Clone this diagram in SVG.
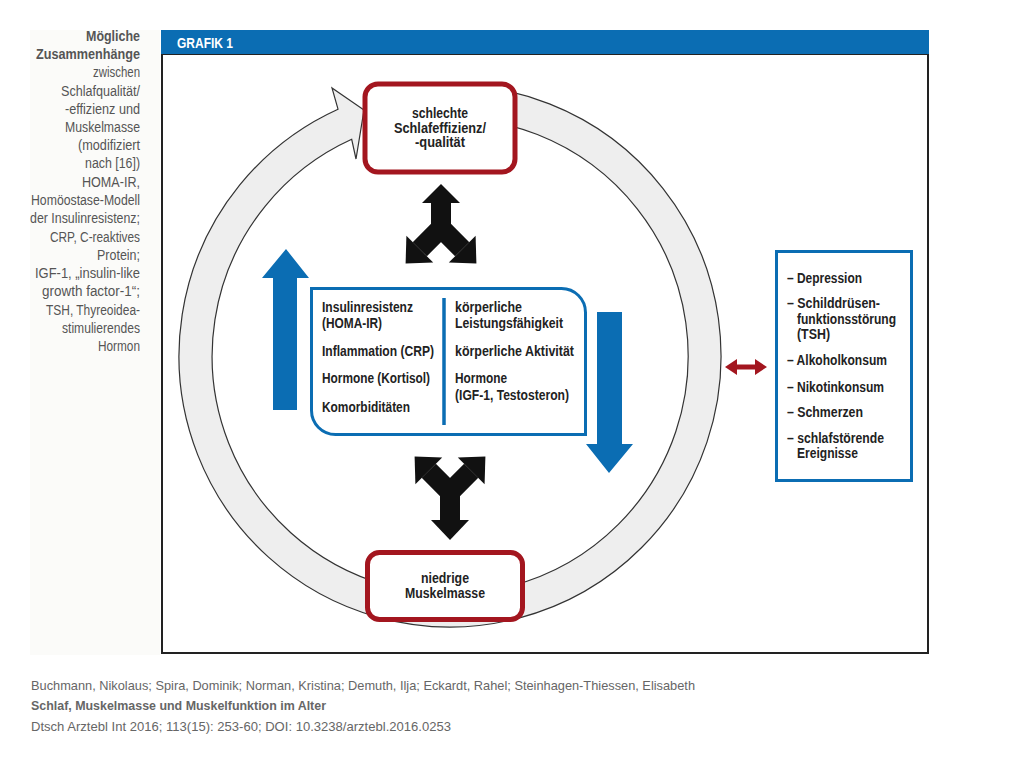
<svg xmlns="http://www.w3.org/2000/svg" width="1024" height="768" viewBox="0 0 1024 768">
<style>
.t{font-family:"Liberation Sans",Arial,sans-serif;font-weight:bold;fill:#222;font-size:14px}
.side{font-family:"Liberation Sans",Arial,sans-serif;fill:#555;font-size:14px;text-anchor:end}
.foot{font-family:"Liberation Sans",Arial,sans-serif;fill:#666;font-size:13px}
.redbox{fill:#fff;stroke:#a3161f;stroke-width:5}
.blue{fill:#0b6db3}
.bk{fill:#111}
</style>
<rect x="30" y="30" width="130" height="625" fill="#fbfbf9"/>
<g id="sidebar">
<text class="side" x="140" y="41" font-weight="bold" textLength="54" lengthAdjust="spacingAndGlyphs">Mögliche</text>
<text class="side" x="140" y="59" font-weight="bold" textLength="104" lengthAdjust="spacingAndGlyphs">Zusammenhänge</text>
<text class="side" x="140" y="77" textLength="47" lengthAdjust="spacingAndGlyphs">zwischen</text>
<text class="side" x="140" y="96" textLength="79" lengthAdjust="spacingAndGlyphs">Schlafqualität/</text>
<text class="side" x="140" y="114" textLength="75" lengthAdjust="spacingAndGlyphs">-effizienz und</text>
<text class="side" x="140" y="132" textLength="75" lengthAdjust="spacingAndGlyphs">Muskelmasse</text>
<text class="side" x="140" y="150" textLength="62" lengthAdjust="spacingAndGlyphs">(modifiziert</text>
<text class="side" x="140" y="168" textLength="55" lengthAdjust="spacingAndGlyphs">nach [16])</text>
<text class="side" x="140" y="187" textLength="58" lengthAdjust="spacingAndGlyphs">HOMA-IR,</text>
<text class="side" x="140" y="205" textLength="109" lengthAdjust="spacingAndGlyphs">Homöostase-Modell</text>
<text class="side" x="140" y="223" textLength="110" lengthAdjust="spacingAndGlyphs">der Insulinresistenz;</text>
<text class="side" x="140" y="242" textLength="90" lengthAdjust="spacingAndGlyphs">CRP, C-reaktives</text>
<text class="side" x="140" y="260" textLength="43" lengthAdjust="spacingAndGlyphs">Protein;</text>
<text class="side" x="140" y="278" textLength="105" lengthAdjust="spacingAndGlyphs">IGF-1, „insulin-like</text>
<text class="side" x="140" y="296" textLength="98" lengthAdjust="spacingAndGlyphs">growth factor-1“;</text>
<text class="side" x="140" y="315" textLength="94" lengthAdjust="spacingAndGlyphs">TSH, Thyreoidea-</text>
<text class="side" x="140" y="333" textLength="78" lengthAdjust="spacingAndGlyphs">stimulierendes</text>
<text class="side" x="140" y="351" textLength="42" lengthAdjust="spacingAndGlyphs">Hormon</text>
</g>
<g id="frame">
<rect x="162" y="54" width="766" height="599" fill="#fff" stroke="#222" stroke-width="2"/>
<rect x="161" y="30" width="768" height="24" class="blue"/>
<text x="177" y="48" font-family="Liberation Sans, Arial, sans-serif" font-weight="bold" font-size="14" fill="#fff" textLength="56" lengthAdjust="spacingAndGlyphs">GRAFIK 1</text>
</g>
<g id="connectors">
<path d="M338.0 109.2 A271 271 0 1 0 426.4 86.0 L429.3 118.9 A238 238 0 1 1 351.7 139.3 L356 159 L364 110 L332 88 Z" fill="#eeeeee" stroke="#333" stroke-width="1.2" stroke-linejoin="miter"/>
<polygon class="blue" points="273,410 273,278 262,278 286,249 309,278 297,278 297,410"/>
<polygon class="blue" points="597,312 622,312 622,444 633,444 609,473 586,444 597,444"/>
<g id="tri-top">
<path d="M419.8 249.2 L441 228 L462.2 249.2 M441 228 L441 202" fill="none" stroke="#111" stroke-width="20" stroke-linejoin="miter"/>
<polygon class="bk" points="422,203 441,184 460,203"/>
<polygon class="bk" points="405.6,263.4 433.2,262.6 406.4,235.8"/>
<polygon class="bk" points="476.4,263.4 448.8,262.6 475.6,235.8"/>
</g>
<g id="tri-bottom">
<path d="M428.8 470.8 L450 492 L471.2 470.8 M450 492 L450 521" fill="none" stroke="#111" stroke-width="20" stroke-linejoin="miter"/>
<polygon class="bk" points="431,520 450,540 469,520"/>
<polygon class="bk" points="414.6,456.6 442.2,457.4 415.4,484.2"/>
<polygon class="bk" points="485.4,456.6 457.8,457.4 484.6,484.2"/>
</g>
<polygon fill="#a3161f" points="725,367 737,359 737,364.5 755,364.5 755,359 767,367 755,375 755,369.5 737,369.5 737,375"/>
</g>
<g id="node-top">
<rect class="redbox" x="365" y="84" width="150" height="88" rx="13"/>
<text class="t" x="440" y="118" text-anchor="middle" textLength="56" lengthAdjust="spacingAndGlyphs">schlechte</text>
<text class="t" x="440" y="132.5" text-anchor="middle" textLength="92" lengthAdjust="spacingAndGlyphs">Schlafeffizienz/</text>
<text class="t" x="440" y="147" text-anchor="middle" textLength="50" lengthAdjust="spacingAndGlyphs">-qualität</text>
</g>
<g id="node-bottom">
<rect class="redbox" x="367.5" y="552.5" width="155" height="67" rx="12"/>
<text class="t" x="445" y="583" text-anchor="middle" textLength="48" lengthAdjust="spacingAndGlyphs">niedrige</text>
<text class="t" x="445" y="598" text-anchor="middle" textLength="80" lengthAdjust="spacingAndGlyphs">Muskelmasse</text>
</g>
<g id="node-center">
<path d="M311.5 288.5 H561.5 A24 24 0 0 1 585.5 312.5 V434.5 H335.5 A24 24 0 0 1 311.5 410.5 Z" fill="#fff" stroke="#0b6db3" stroke-width="3"/>
<line x1="444" y1="298" x2="444" y2="425" stroke="#0b6db3" stroke-width="3.5"/>
<text class="t" x="322" y="312" textLength="91" lengthAdjust="spacingAndGlyphs">Insulinresistenz</text>
<text class="t" x="322" y="328" textLength="60" lengthAdjust="spacingAndGlyphs">(HOMA-IR)</text>
<text class="t" x="322" y="356" textLength="112" lengthAdjust="spacingAndGlyphs">Inflammation (CRP)</text>
<text class="t" x="322" y="383" textLength="108" lengthAdjust="spacingAndGlyphs">Hormone (Kortisol)</text>
<text class="t" x="322" y="412" textLength="88" lengthAdjust="spacingAndGlyphs">Komorbiditäten</text>
<text class="t" x="455" y="312" textLength="67" lengthAdjust="spacingAndGlyphs">körperliche</text>
<text class="t" x="455" y="328" textLength="108" lengthAdjust="spacingAndGlyphs">Leistungsfähigkeit</text>
<text class="t" x="455" y="356" textLength="119" lengthAdjust="spacingAndGlyphs">körperliche Aktivität</text>
<text class="t" x="455" y="383" textLength="52" lengthAdjust="spacingAndGlyphs">Hormone</text>
<text class="t" x="455" y="400" textLength="114" lengthAdjust="spacingAndGlyphs">(IGF-1, Testosteron)</text>
</g>
<g id="node-right">
<rect x="776.5" y="251.5" width="135" height="229" fill="#fff" stroke="#0b6db3" stroke-width="3"/>
<text class="t" x="787" y="283" textLength="75" lengthAdjust="spacingAndGlyphs">– Depression</text>
<text class="t" x="787" y="308" textLength="93" lengthAdjust="spacingAndGlyphs">– Schilddrüsen-</text>
<text class="t" x="797" y="324" textLength="99" lengthAdjust="spacingAndGlyphs">funktionsstörung</text>
<text class="t" x="797" y="339" textLength="33" lengthAdjust="spacingAndGlyphs">(TSH)</text>
<text class="t" x="787" y="365" textLength="100" lengthAdjust="spacingAndGlyphs">– Alkoholkonsum</text>
<text class="t" x="787" y="392" textLength="97" lengthAdjust="spacingAndGlyphs">– Nikotinkonsum</text>
<text class="t" x="787" y="417" textLength="76" lengthAdjust="spacingAndGlyphs">– Schmerzen</text>
<text class="t" x="787" y="443" textLength="97" lengthAdjust="spacingAndGlyphs">– schlafstörende</text>
<text class="t" x="797" y="458" textLength="61" lengthAdjust="spacingAndGlyphs">Ereignisse</text>
</g>
<g id="footer">
<text class="foot" x="31" y="690" textLength="664" lengthAdjust="spacingAndGlyphs">Buchmann, Nikolaus; Spira, Dominik; Norman, Kristina; Demuth, Ilja; Eckardt, Rahel; Steinhagen-Thiessen, Elisabeth</text>
<text class="foot" x="31" y="710" font-weight="bold" textLength="295" lengthAdjust="spacingAndGlyphs">Schlaf, Muskelmasse und Muskelfunktion im Alter</text>
<text class="foot" x="31" y="731" textLength="420" lengthAdjust="spacingAndGlyphs">Dtsch Arztebl Int 2016; 113(15): 253-60; DOI: 10.3238/arztebl.2016.0253</text>
</g>
</svg>
